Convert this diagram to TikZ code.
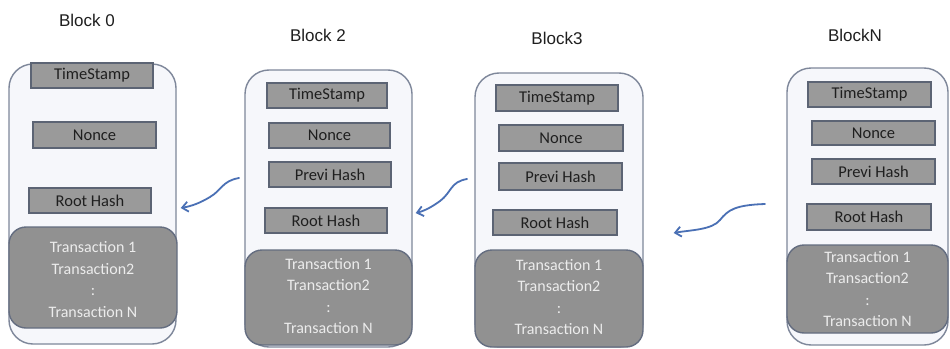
\documentclass[tikz,border=0pt]{standalone}
\usepackage{fontspec}
\setmainfont{Carlito}
\newfontfamily\titlefont{Liberation Sans}
\usetikzlibrary{arrows.meta,calc}
\definecolor{outerfill}{HTML}{F6F7FB}
\definecolor{outerdraw}{HTML}{7E879A}
\definecolor{fieldfill}{HTML}{9A9A9A}
\definecolor{fielddraw}{HTML}{5C6474}
\definecolor{txfill}{HTML}{919191}
\definecolor{txdraw}{HTML}{646D80}
\definecolor{txtext}{HTML}{ECECEC}
\definecolor{arrowblue}{HTML}{4A70B5}
\tikzset{
  outerbox/.style={draw=outerdraw, fill=outerfill, line width=1.4pt, rounded corners=24pt, inner sep=0pt},
  fieldbox/.style={draw=fielddraw, fill=fieldfill, line width=1.6pt, inner sep=0pt, text=black!88,
     font=\fontsize{16.5}{18}\selectfont},
  txbox/.style={draw=txdraw, fill=txfill, line width=1.4pt, rounded corners=17pt, inner sep=0pt},
  txtext/.style={text=txtext, align=center, font=\fontsize{16}{21.5}\selectfont},
  blocktitle/.style={font=\titlefont\fontsize{17}{19}\selectfont, text=black!88},
  chainarrow/.style={draw=arrowblue, line width=1.8pt, line cap=round, -{Straight Barb[length=6pt,width=10pt,line width=1.8pt]}}
}
\newcommand{\fieldnode}[5]{\node[fieldbox, minimum width=#3pt, minimum height=#4pt] (#1) at (#2) {#5};}
\begin{document}
\begin{tikzpicture}[x=1pt,y=-1pt]
\useasboundingbox (0,0) rectangle (950,348);
\fill[white] (0,0) rectangle (950,348);

% ---------- Block 0
\node[blocktitle] (t0) at (87,20) {Block 0};
\node[outerbox, minimum width=167pt, minimum height=280pt] (b0) at (92.5,204) {};
\node[txbox, minimum width=168pt, minimum height=101pt] (x0) at (93,277.5) {};
\node[txtext] (xt0) at (93,279.5) {Transaction 1\\Transaction2\\:\\Transaction N};
\fieldnode{ts0}{92,75.5}{122}{25}{TimeStamp}
\fieldnode{n0}{94.5,135}{123}{26}{Nonce}
\fieldnode{r0}{90,200.5}{122}{25}{Root Hash}

% ---------- Block 2
\node[blocktitle] (t2) at (318,35) {Block 2};
\node[outerbox, minimum width=167pt, minimum height=277pt] (b2) at (328.5,208.5) {};
\node[txbox, minimum width=167pt, minimum height=95pt] (x2) at (328.5,297.5) {};
\node[txtext] (xt2) at (328.5,296) {Transaction 1\\Transaction2\\:\\Transaction N};
\fieldnode{ts2}{327,95.5}{120}{25}{TimeStamp}
\fieldnode{n2}{329.5,135.5}{121}{25}{Nonce}
\fieldnode{p2}{330,174.5}{122}{25}{Previ Hash}
\fieldnode{r2}{326,220.5}{122}{25}{Root Hash}

% ---------- Block 3
\node[blocktitle] (t3) at (557,38) {Block3};
\node[outerbox, minimum width=168pt, minimum height=274pt] (b3) at (559,210) {};
\node[txbox, minimum width=168pt, minimum height=97pt] (x3) at (559,298.5) {};
\node[txtext] (xt3) at (559,297) {Transaction 1\\Transaction2\\:\\Transaction N};
\fieldnode{ts3}{557,98}{122}{26}{TimeStamp}
\fieldnode{n3}{561,138}{124}{26}{Nonce}
\fieldnode{p3}{560.5,176.5}{123}{27}{Previ Hash}
\fieldnode{r3}{555,222.5}{124}{25}{Root Hash}

% ---------- Block N
\node[blocktitle] (tN) at (855,35) {BlockN};
\node[outerbox, minimum width=161pt, minimum height=277pt] (bN) at (867.5,206.5) {};
\node[txbox, minimum width=161pt, minimum height=88pt] (xN) at (867.5,289) {};
\node[txtext] (xtN) at (867.5,289) {Transaction 1\\Transaction2\\:\\Transaction N};
\fieldnode{tsN}{869.5,94.5}{123}{25}{TimeStamp}
\fieldnode{nN}{873.5,133}{123}{24}{Nonce}
\fieldnode{pN}{873.5,171.5}{123}{25}{Previ Hash}
\fieldnode{rN}{869,217}{124}{26}{Root Hash}

% ---------- arrows
\coordinate (a1s) at (239,178);
\coordinate (a2s) at (467,179);
\coordinate (a3s) at (765,204);
\draw[chainarrow] (a1s) .. controls (222,181) and (222,190) .. (210,197)
   .. controls (200,203) and (192,206) .. ([xshift=4pt]b0.east |- 0,208);
\draw[chainarrow] (a2s) .. controls (450,182) and (452,192) .. (440,201)
   .. controls (432,207) and (424,211) .. ([xshift=3pt]b2.east |- 0,213);
\draw[chainarrow] (a3s) .. controls (735,205) and (728,210) .. (720,220)
   .. controls (712,230) and (690,230) .. ([xshift=30pt]b3.east |- 0,233);
\end{tikzpicture}
\end{document}
